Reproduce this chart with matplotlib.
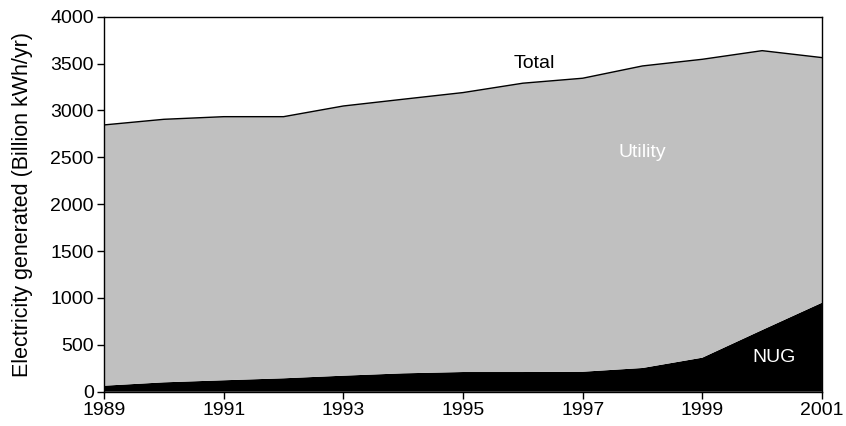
import matplotlib
matplotlib.use("Agg")
import matplotlib.pyplot as plt

plt.rcParams['font.family'] = ['Liberation Sans', 'DejaVu Sans']

# Electricity generated, billion kWh/yr
years = [1989, 1990, 1991, 1992, 1993, 1994, 1995, 1996, 1997, 1998, 1999, 2000, 2001]
total = [2845, 2905, 2933, 2933, 3047, 3119, 3190, 3290, 3343, 3474, 3545, 3637, 3563]
nug = [64, 100, 122, 143, 171, 196, 210, 210, 213, 253, 363, 658, 949]
utility = [t - n for t, n in zip(total, nug)]

fig = plt.figure(figsize=(8.46, 4.26), dpi=100)
ax = fig.add_axes([0.123, 0.0805, 0.8486, 0.8805])

ax.stackplot(years, nug, utility, colors=['black', '#c0c0c0'], linewidth=0)
ax.plot(years, total, color='black', linewidth=1)

ax.text(1996.2, 3500, 'Total', fontsize=14, ha='center', va='center', color='black')
ax.text(1998.0, 2550, 'Utility', fontsize=14, ha='center', va='center', color='white')
ax.text(2000.2, 370, 'NUG', fontsize=14, ha='center', va='center', color='white')

ax.set_xlim(1989, 2001)
ax.set_ylim(0, 4000)
ax.set_xticks(range(1989, 2002, 2))
ax.set_yticks(range(0, 4001, 500))
ax.tick_params(labelsize=14, direction='out', length=5, width=1, pad=2.5)
ax.set_ylabel('Electricity generated (Billion kWh/yr)', fontsize=15.5, labelpad=12)
for s in ax.spines.values():
    s.set_linewidth(1)

fig.savefig('out.png', dpi=100)
